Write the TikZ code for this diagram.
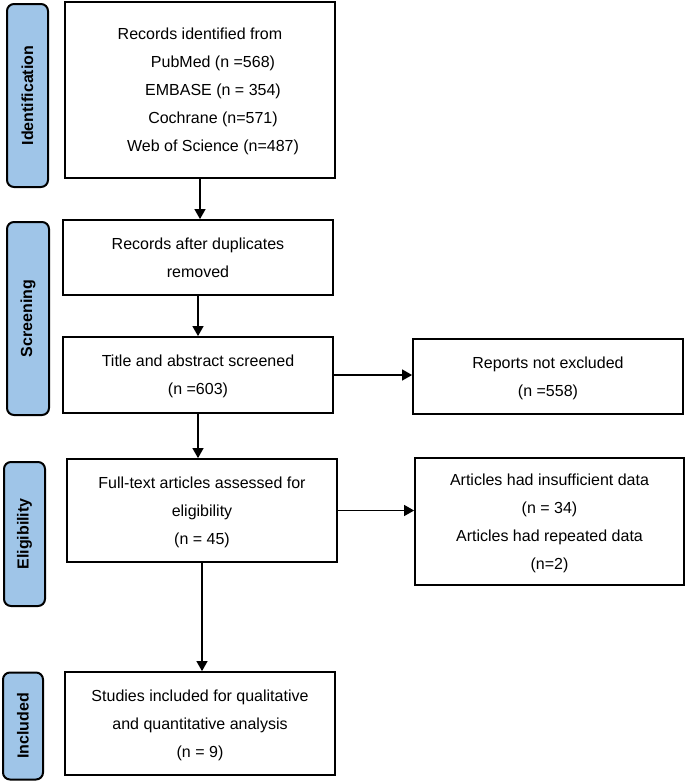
\documentclass[tikz,border=0pt]{standalone}
\usepackage{fontspec}
\setmainfont{Liberation Sans}
\usetikzlibrary{arrows.meta}
\definecolor{stageblue}{HTML}{9FC5E8}
\tikzset{
  stage/.style={draw=black, line width=2pt, fill=stageblue, rounded corners=7pt, inner sep=0pt,
    font=\fontsize{16}{19}\selectfont\bfseries},
  flowbox/.style={draw=black, line width=1.8pt, fill=white, inner sep=0pt, minimum width=270pt,
    align=center, text depth=0pt, font=\fontsize{16}{28}\selectfont},
  arr/.style={line width=1.3pt, -{Triangle[length=10pt,width=11pt]}}
}
\begin{document}
\begin{tikzpicture}[x=1pt,y=-1pt]
\useasboundingbox (0,0) rectangle (685,782);
% stage labels
\node[stage, minimum width=41pt, minimum height=183pt] (lid) at (27.5,95.5) {\rotatebox{90}{Identification}};
\node[stage, minimum width=42pt, minimum height=193pt] (lsc) at (28,318.5) {\rotatebox{90}{Screening}};
\node[stage, minimum width=41pt, minimum height=144pt] (lel) at (24.5,534) {\rotatebox{90}{Eligibility}};
\node[stage, minimum width=40pt, minimum height=107pt] (lin) at (23,726) {\rotatebox{90}{Included}};
% boxes
\node[flowbox, minimum height=176pt] (b1) at (200,90) {Records identified from\\
\hspace*{26pt}PubMed (n =568)\\
\hspace*{26pt}EMBASE (n = 354)\\
\hspace*{26pt}Cochrane (n=571)\\
\hspace*{26pt}Web of Science (n=487)};
\node[flowbox, minimum height=75pt] (b2) at (198,257.5) {Records after duplicates\\removed};
\node[flowbox, minimum height=76pt] (b3) at (198,375) {Title and abstract screened\\(n =603)};
\node[flowbox, minimum height=103pt] (b4) at (202,510.5) {Full-text articles assessed for\\eligibility\\(n = 45)};
\node[flowbox, minimum height=103pt] (b5) at (200,723.5) {Studies included for qualitative\\and quantitative analysis\\(n = 9)};
\node[flowbox, minimum height=75pt] (r1) at (548,376.5) {Reports not excluded\\(n =558)};
\node[flowbox, minimum width=269pt, minimum height=127pt] (r2) at (549.5,521.5) {Articles had insufficient data\\(n = 34)\\Articles had repeated data\\(n=2)};
% arrows
\draw[arr] (b1.south) -- (b1.south |- b2.north);
\draw[arr] (b2.south) -- (b2.south |- b3.north);
\draw[arr] (b3.south) -- (b3.south |- b4.north);
\draw[arr] (b4.south) -- (b4.south |- b5.north);
\draw[arr] (b3.east) -- (b3.east -| r1.west);
\draw[arr] (b4.east) -- (b4.east -| r2.west);
\end{tikzpicture}
\end{document}
